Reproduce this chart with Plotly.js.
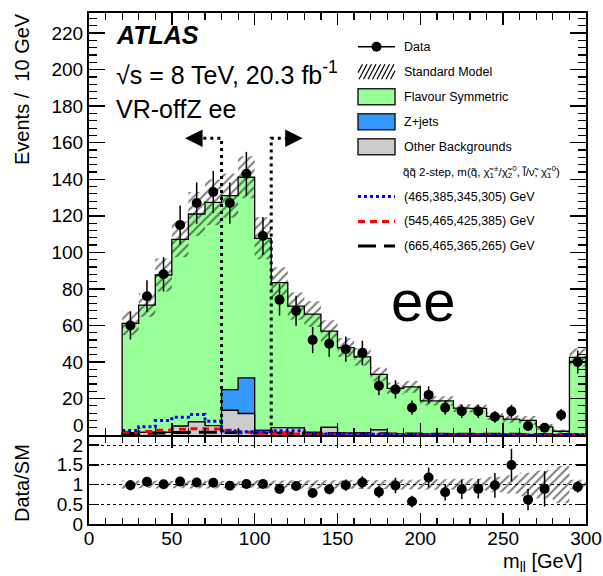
<!DOCTYPE html>
<html><head><meta charset="utf-8">
<script src="https://cdn.plot.ly/plotly-3.0.1.min.js"></script>
<style>html,body{margin:0;padding:0;background:#fff;} #chart{width:603px;height:576px;}</style>
</head><body><div id="chart"></div>
<script>
// ---- data (10 GeV bins, bin centres in GeV) ----
const mll = [25,35,45,55,65,75,85,95,105,115,125,135,145,155,165,175,185,195,205,215,225,235,245,255,265,275,285,295];
const binWidth = 10;
const dataCounts = [60,76,88,115,127,133,127,143,109,74,68,52,50,47,45,27,25,15,22,15,13,13,10,13,5,4,11,40];
const dataErr = [7.7,8.7,9.4,10.7,11.3,11.5,11.3,12.0,10.4,8.6,8.2,7.2,7.1,6.9,6.7,5.2,5.0,3.9,4.7,3.9,3.6,3.6,3.2,3.6,2.2,2.0,3.3,6.3];
const flavourSym = [60.1,69.6,86.1,102.2,113.8,122.2,106.1,109.8,105.1,79.3,66.7,64.7,52.7,46.9,41.8,30.4,24.8,25.7,18.1,18.1,14.3,14.1,9.8,8.3,7.8,4.2,1.9,42.1];
const zJets = [0,0,0,0,0,0,11.3,19.5,0,0,0,0,0,0,0,0,0,0,0,0,0,0,0,0,0,0,0,0];
const otherBkg = [1.0,1.5,1.5,4.9,7.2,5.2,13.6,11.8,2.6,4.1,3.9,1.5,4.2,1.0,1.0,2.8,0.8,0.7,0.6,0.6,0.5,0.5,0.4,0.4,0.3,0.3,0.2,0.4];
const smErr = [6.5,6.4,9.0,9.8,12.0,12.5,12.0,11.5,11.5,8.5,7.5,7.0,6.0,5.2,4.8,3.8,3.2,3.2,2.5,2.5,2.2,2.2,2.0,2.0,2.4,1.6,1.0,5.0];
const sig465 = [2.5,4.5,8.0,9.8,11.3,7.6,2.2,1.8,1.9,2.4,2.4,1.0,0.6,0.5,0.4,0.4,0.3,0.3,0.3,0.2,0.2,0.2,0.2,0.2,0.1,0.1,0.1,0.2];
const sig545 = [1.5,2.0,2.6,3.2,3.5,3.3,2.6,1.6,1.0,0.8,0.6,0.5,0.5,0.4,0.4,0.3,0.3,0.3,0.3,0.2,0.2,0.2,0.2,0.2,0.2,0.1,0.1,0.2];
const sig665 = [0.8,1.0,1.2,1.4,1.5,1.5,1.4,1.3,1.2,1.1,1.0,0.9,0.8,0.8,0.7,0.7,0.6,0.6,0.5,0.5,0.5,0.4,0.4,0.4,0.3,0.3,0.3,0.3];
const cutLow = 80, cutHigh = 110, cutLevel = 162.5;
const arrowTipLow = 58, arrowTipHigh = 129, arrowBaseLow = 69, arrowBaseHigh = 120;
const yTickVals = [20,40,60,80,100,120,140,160,180,200,220];
const rTickVals = [0,0.5,1,1.5,2];
const rTickText = ['0','0.5','1','1.5','2'];
const legendLabels = ['Data','Standard Model','Flavour Symmetric','Z+jets','Other Backgrounds'];
const sigHeader = 'q\u0303q\u0303 2-step, m(q\u0303, \u03c7\u0303<sub>1</sub><sup>\u00b1</sup>/\u03c7\u0303<sub>2</sub><sup>0</sup>, l\u0303/\u03bd\u0303, \u03c7\u0303<sub>1</sub><sup>0</sup>)';
const sigLabels = ['(465,385,345,305) GeV','(545,465,425,385) GeV','(665,465,365,265) GeV'];

// ---- derived ----
const n = mll.length;
const edges = mll.map(c => c - binWidth/2).concat([mll[n-1] + binWidth/2]);
const stepY = v => v.concat([v[n-1]]);
const closedX = [edges[0]].concat(edges, [edges[edges.length-1]]);
const closedY = v => [0].concat(stepY(v), [0]);
const other = otherBkg.slice();
const zo = zJets.map((z,i) => z + otherBkg[i]);
const total = flavourSym.map((f,i) => f + zo[i]);
const lo = total.map((t,i) => t - smErr[i]);
const hi = total.map((t,i) => t + smErr[i]);
const ratio = dataCounts.map((d,i) => d / total[i]);
const ratioErr = dataErr.map((e,i) => e / total[i]);
const rLo = smErr.map((e,i) => 1 - e/total[i]);
const rHi = smErr.map((e,i) => 1 + e/total[i]);

const GREEN = '#99ff99', BLUE = '#3399ff', GREY = '#cccccc';
const hatch = {shape:'/', fgcolor:'black', bgcolor:'rgba(0,0,0,0)', size:6, solidity:0.35, fillmode:'overlay'};

function fillStep(v, col) {
  return {x: closedX, y: closedY(v), xaxis:'x', yaxis:'y', type:'scatter', mode:'lines',
    line:{shape:'hv', color:'black', width:1.3}, fill:'tozeroy', fillcolor:col, hoverinfo:'skip', showlegend:false};
}
function lineStep(v, col, dash, w) {
  return {x: edges, y: stepY(v), xaxis:'x', yaxis:'y', type:'scatter', mode:'lines',
    line:{shape:'hv', color:col, width:w, dash:dash}, hoverinfo:'skip', showlegend:false};
}

const traces = [
  fillStep(total, GREEN),
  fillStep(zo, BLUE),
  fillStep(other, GREY),
  {x: edges, y: stepY(lo), xaxis:'x', yaxis:'y', type:'scatter', mode:'lines', line:{shape:'hv', width:0, color:'rgba(0,0,0,0)'}, showlegend:false, hoverinfo:'skip'},
  {x: edges, y: stepY(hi), xaxis:'x', yaxis:'y', type:'scatter', mode:'lines', line:{shape:'hv', width:0, color:'rgba(0,0,0,0)'}, fill:'tonexty', fillcolor:'rgba(0,0,0,0)', fillpattern:hatch, showlegend:false, hoverinfo:'skip'},
  lineStep(sig665, 'black', '18px,8px', 3),
  lineStep(sig545, '#ff0000', '7px,5px', 3),
  lineStep(sig465, '#0000ff', '3px,3px', 3),
  {x:[arrowBaseLow, cutLow, cutLow], y:[cutLevel, cutLevel, 0], xaxis:'x', yaxis:'y', type:'scatter', mode:'lines', line:{color:'black', width:3, dash:'3px,4px'}, showlegend:false, hoverinfo:'skip'},
  {x:[arrowBaseHigh, cutHigh, cutHigh], y:[cutLevel, cutLevel, 0], xaxis:'x', yaxis:'y', type:'scatter', mode:'lines', line:{color:'black', width:3, dash:'3px,4px'}, showlegend:false, hoverinfo:'skip'},
  {x: mll, y: dataCounts, xaxis:'x', yaxis:'y', type:'scatter', mode:'markers', marker:{symbol:'circle', size:10, color:'black'},
    error_y:{type:'data', array:dataErr, visible:true, width:0, thickness:1.5, color:'black'}, showlegend:false},
  // ratio panel
  {x: edges, y: stepY(rLo), xaxis:'x2', yaxis:'y2', type:'scatter', mode:'lines', line:{shape:'hv', width:0, color:'rgba(0,0,0,0)'}, showlegend:false, hoverinfo:'skip'},
  {x: edges, y: stepY(rHi), xaxis:'x2', yaxis:'y2', type:'scatter', mode:'lines', line:{shape:'hv', width:0, color:'rgba(0,0,0,0)'}, fill:'tonexty', fillcolor:'rgba(0,0,0,0)', fillpattern:hatch, showlegend:false, hoverinfo:'skip'},
  {x: mll, y: ratio, xaxis:'x2', yaxis:'y2', type:'scatter', mode:'markers', marker:{symbol:'circle', size:10, color:'black'},
    error_y:{type:'data', array:ratioErr, visible:true, width:0, thickness:1.5, color:'black'}, showlegend:false}
];

// ---- layout helpers (pixel -> paper) ----
const W = 603, H = 576, ml = 89, mr = 17, mt = 13, mb = 52;
const pw = W - ml - mr, ph = H - mt - mb;
const PX = x => (x - ml) / pw, PY = y => (H - mb - y) / ph;
const FONT = 'Liberation Sans, Arial, Helvetica, sans-serif';

const axBase = {showline:true, linecolor:'black', linewidth:2, mirror:'ticks', ticks:'inside', tickcolor:'black', tickwidth:1.5,
  showgrid:false, zeroline:false, tickfont:{size:19, color:'black', family:FONT}};

const annotations = [];
const ann = (text, x, y, opts) => annotations.push(Object.assign({text, x:PX(x), y:PY(y), xref:'paper', yref:'paper', showarrow:false,
  xanchor:'left', yanchor:'middle', font:{family:FONT, size:25, color:'black'}}, opts || {}));
ann('<b><i>ATLAS</i></b>', 114, 35);
ann('\u221as = 8 TeV, 20.3 fb<sup>-1</sup>', 114, 73);
ann('VR-offZ ee', 114, 109);
ann('ee', 423, 300, {xanchor:'center', font:{family:FONT, size:58, color:'black'}});
ann('Events /\u00a0\u00a010 GeV', 22, 11, {xanchor:'center', yanchor:'top', textangle:-90, font:{family:FONT, size:20, color:'black'}});
ann('Data/SM', 22, 483, {xanchor:'center', textangle:-90, font:{family:FONT, size:20, color:'black'}});
ann('m<sub>ll</sub> [GeV]', 585, 562, {xanchor:'right', font:{family:FONT, size:20, color:'black'}});
ann('0', 86, 425, {xanchor:'right', font:{family:FONT, size:19, color:'black'}});
const legY = [46.7, 71.7, 96.7, 121.7, 146.7];
legendLabels.forEach((t,i) => ann(t, 402, legY[i], {font:{family:FONT, size:12.5, color:'black'}}));
ann(sigHeader, 401, 172, {font:{family:FONT, size:11.5, color:'black'}});
const sigY = [196.5, 221.5, 246];
sigLabels.forEach((t,i) => ann(t, 402, sigY[i], {font:{family:FONT, size:12.5, color:'black'}}));
// cut arrows
[[arrowTipLow, arrowBaseLow],[arrowTipHigh, arrowBaseHigh]].forEach(([tip, base]) => annotations.push({
  x: tip, y: cutLevel, ax: base, ay: cutLevel, xref:'x', yref:'y', axref:'x', ayref:'y', text:'', showarrow:true,
  arrowhead:2, arrowsize:1.75, arrowwidth:2, arrowcolor:'black'}));

// ---- legend symbols as shapes ----
const shapes = [];
const lx0 = 358, lx1 = 395;
shapes.push({type:'line', xref:'paper', yref:'paper', x0:PX(lx0), x1:PX(lx1), y0:PY(legY[0]), y1:PY(legY[0]), line:{color:'black', width:1.5}});
shapes.push({type:'circle', xref:'paper', yref:'paper', x0:PX(371.5), x1:PX(381.5), y0:PY(legY[0]+5), y1:PY(legY[0]-5), fillcolor:'black', line:{color:'black', width:0}});
// hatched SM box
(function(){
  const yb = legY[1] + 7.5, yt = legY[1] - 7.5, dx = 8;
  for (let k = 0; k < 11; k++) {
    let xa = lx0 - dx + k * 4.5, ya = yb, xb = xa + dx, yb2 = yt;
    if (xb <= lx0 || xa >= lx1) continue;
    if (xa < lx0) { const t = (lx0 - xa) / dx; ya = yb + (yt - yb) * t; xa = lx0; }
    if (xb > lx1) { const t = (xb - lx1) / dx; yb2 = yt - (yt - yb) * t; xb = lx1; }
    shapes.push({type:'line', xref:'paper', yref:'paper', x0:PX(xa), y0:PY(ya), x1:PX(xb), y1:PY(yb2), line:{color:'black', width:1.2}});
  }
})();
[[GREEN, legY[2]], [BLUE, legY[3]], [GREY, legY[4]]].forEach(([c, y]) => shapes.push({type:'rect', xref:'paper', yref:'paper',
  x0:PX(lx0), x1:PX(lx1), y0:PY(y+8), y1:PY(y-8), fillcolor:c, line:{color:'#222', width:1.5}}));
[['#0000ff','3px,3px'], ['#ff0000','7px,5px'], ['black','18px,8px']].forEach(([c,d], i) => shapes.push({type:'line', xref:'paper', yref:'paper',
  x0:PX(lx0), x1:PX(lx1), y0:PY(sigY[i]), y1:PY(sigY[i]), line:{color:c, width:3, dash:d}}));

const layout = {
  width: W, height: H, margin:{l:ml, r:mr, t:mt, b:mb},
  paper_bgcolor:'white', plot_bgcolor:'white', showlegend:false,
  font:{family:FONT, color:'black'},
  xaxis: Object.assign({}, axBase, {domain:[0,1], anchor:'y', range:[0,300], tickmode:'linear', tick0:0, dtick:50, ticklen:12,
    showticklabels:false, minor:{tickmode:'linear', tick0:0, dtick:10, ticklen:7, ticks:'inside', tickcolor:'black', tickwidth:1.2}}),
  yaxis: Object.assign({}, axBase, {domain:[0.174,1], anchor:'x', range:[0,231], tickmode:'array', tickvals:yTickVals, ticklen:16,
    minor:{tickmode:'linear', tick0:0, dtick:4, ticklen:8, ticks:'inside', tickcolor:'black', tickwidth:1.2}}),
  xaxis2: Object.assign({}, axBase, {domain:[0,1], anchor:'y2', range:[0,300], tickmode:'linear', tick0:0, dtick:50, ticklen:11,
    ticklabelstandoff:-4,
    minor:{tickmode:'linear', tick0:0, dtick:10, ticklen:6, ticks:'inside', tickcolor:'black', tickwidth:1.2}}),
  yaxis2: Object.assign({}, axBase, {domain:[0,0.170], anchor:'x2', range:[0,2.2], tickmode:'array', tickvals:rTickVals, ticktext:rTickText, ticklen:10,
    showgrid:true, gridcolor:'black', griddash:'dot', gridwidth:1}),
  annotations, shapes
};
Plotly.newPlot('chart', traces, layout, {staticPlot:true, displayModeBar:false});
</script></body></html>
